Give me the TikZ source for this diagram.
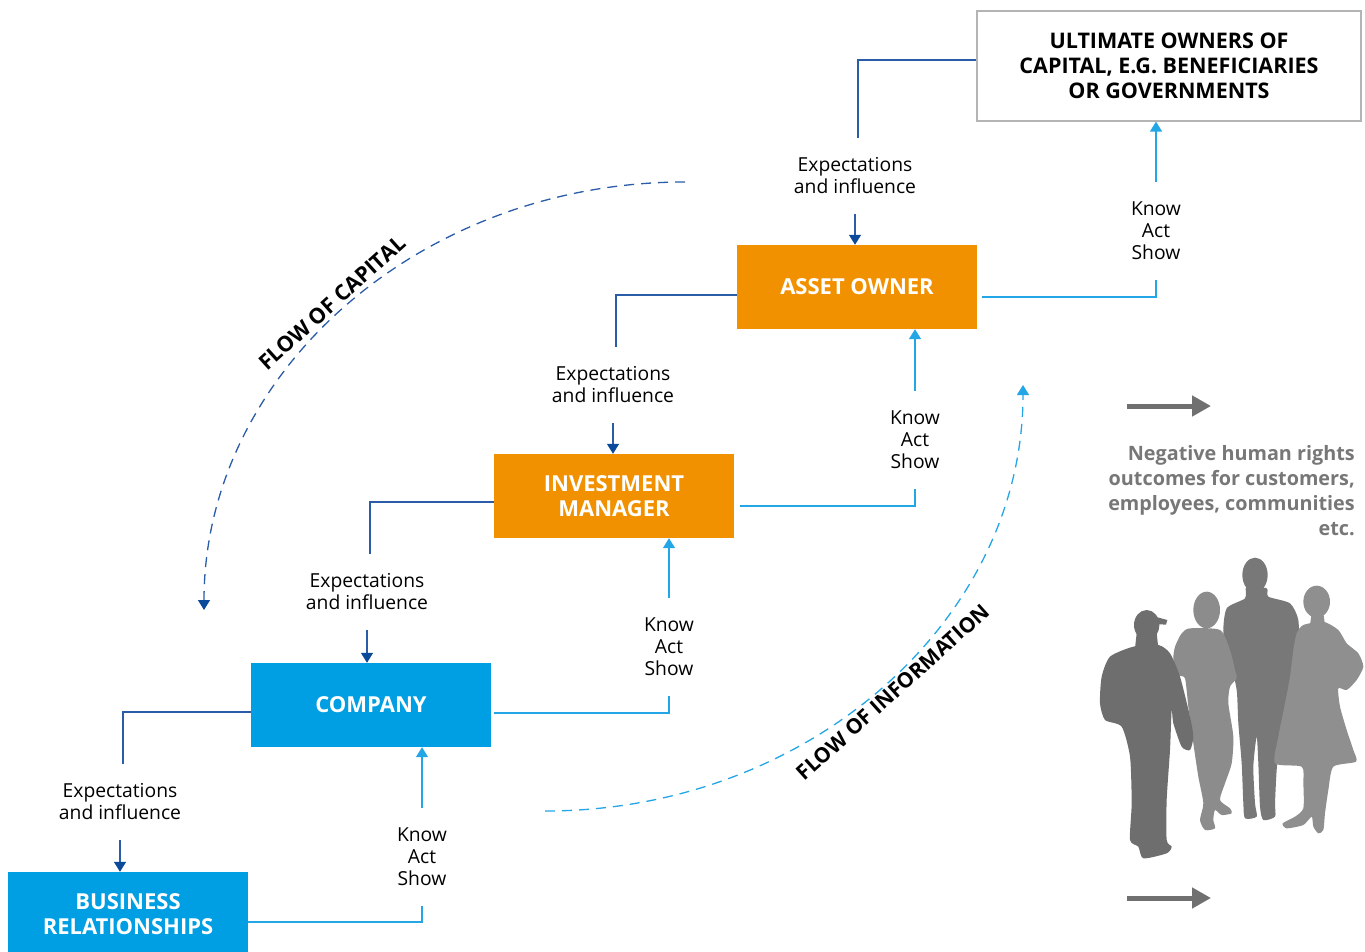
\documentclass[tikz,border=0pt]{standalone}
\usepackage{fontspec}
\setmainfont{Open Sans}
\usetikzlibrary{arrows.meta,positioning}
\definecolor{aoorange}{HTML}{F29100}
\definecolor{coblue}{HTML}{009FE3}
\definecolor{expblue}{HTML}{2A5CA8}
\definecolor{tipblue}{HTML}{0B4A9A}
\definecolor{kasblue}{HTML}{22A6E6}
\definecolor{txtgray}{HTML}{777777}
\definecolor{arrgray}{HTML}{707070}
\definecolor{boxgray}{HTML}{B4B4B4}

\begin{document}
\begin{tikzpicture}[x=1pt,y=-1pt,
    stage/.style={fill=#1, text=white, minimum width=240pt, minimum height=84pt, inner sep=0pt, align=center, font=\fontsize{22}{25}\selectfont\bfseries},
    lbl/.style={align=center, inner xsep=0pt, inner ysep=20pt, font=\fontsize{19.3}{22}\selectfont},
    expline/.style={draw=expblue, line width=1.4pt},
    kasline/.style={draw=kasblue, line width=1.4pt},
    exparrow/.style={expline, -{Triangle[length=10pt,width=12pt,color=tipblue]}},
    kasarrow/.style={kasline, -{Triangle[length=10pt,width=12pt]}},
    flowtext/.style={rotate=42, font=\fontsize{21.5}{24}\selectfont\bfseries},
    grayarrow/.style={draw=arrgray, line width=5pt, -{Triangle[length=19pt,width=20pt]}}]
    \useasboundingbox (0,0) rectangle (1365,952);

    \node[draw=boxgray, line width=1.2pt, minimum width=384pt, minimum height=110pt, align=center, font=\fontsize{21.5}{25}\selectfont\bfseries] (ult) at (1169,66) {ULTIMATE OWNERS OF\\CAPITAL, E.G. BENEFICIARIES\\OR GOVERNMENTS};
    \node[stage=aoorange] (ao) at (857,287) {ASSET OWNER};
    \node[stage=aoorange] (im) at (614,496) {INVESTMENT\\MANAGER};
    \node[stage=coblue] (co) at (371,705) {COMPANY};
    \node[stage=coblue] (br) at (128,914) {BUSINESS\\RELATIONSHIPS};

    \node[lbl] (ea1) at (855,176) {Expectations\\and influence};
    \node[lbl] (ea2) at (613,385) {Expectations\\and influence};
    \node[lbl] (ea3) at (367,592) {Expectations\\and influence};
    \node[lbl] (ea4) at (120,802) {Expectations\\and influence};
    \node[lbl] (ks1) at (1156,231) {Know\\Act\\Show};
    \node[lbl] (ks2) at (915,440) {Know\\Act\\Show};
    \node[lbl] (ks3) at (669,647) {Know\\Act\\Show};
    \node[lbl] (ks4) at (422,857) {Know\\Act\\Show};

    % expectations going down
    \draw[expline] ([yshift=6pt]ult.west) -| ([xshift=3pt]ea1.north);
    \draw[exparrow] (ea1.south) -- (ea1.south |- ao.north);
    \draw[expline] ([yshift=-8pt]ao.west) -| ([xshift=3pt]ea2.north);
    \draw[exparrow] (ea2.south) -- (ea2.south |- im.north);
    \draw[expline] ([yshift=-6pt]im.west) -| ([xshift=3pt]ea3.north);
    \draw[exparrow] (ea3.south) -- (ea3.south |- co.north);
    \draw[expline] ([yshift=-7pt]co.west) -| ([xshift=3pt]ea4.north);
    \draw[exparrow] (ea4.south) -- (ea4.south |- br.north);

    % know, act, show going up
    \draw[kasline] ([xshift=5pt,yshift=-10pt]ao.east) -| (ks1.south);
    \draw[kasarrow] (ks1.north) -- (ks1.north |- ult.south);
    \draw[kasline] ([xshift=6pt,yshift=-10pt]im.east) -| (ks2.south);
    \draw[kasarrow] (ks2.north) -- (ks2.north |- ao.south);
    \draw[kasline] ([xshift=3pt,yshift=-8pt]co.east) -| (ks3.south);
    \draw[kasarrow] (ks3.north) -- (ks3.north |- im.south);
    \draw[kasline] ([yshift=-8pt]br.east) -| (ks4.south);
    \draw[kasarrow] (ks4.north) -- (ks4.north |- co.south);

    \coordinate (capS) at (685,182);
    \coordinate (capE) at (204,610);
    \draw[draw=expblue, line width=1.3pt, dash pattern=on 10pt off 7pt, -{Triangle[length=10pt,width=12pt,color=tipblue]}] (capS) .. controls (419,182) and (204,374) .. (capE);
    \node[flowtext] (fcap) at (332,303) {FLOW OF CAPITAL};

    \coordinate (infS) at (545,811);
    \coordinate (infE) at (1023,385);
    \draw[draw=kasblue, line width=1.3pt, dash pattern=on 10pt off 7pt, -{Triangle[length=10pt,width=12pt]}] (infS) .. controls (809,811) and (1023,620) .. (infE);
    \node[flowtext, font=\fontsize{21}{24}\selectfont\bfseries] (finf) at (893,692) {FLOW OF INFORMATION};

    \coordinate (g1s) at (1127,406);
    \coordinate (g1e) at (1211,406);
    \draw[grayarrow] (g1s) -- (g1e);
    \node[anchor=north east, inner sep=0pt, align=right, text=txtgray, font=\fontsize{19.8}{25}\selectfont\bfseries] (neg) at (1355,445) {Negative human rights\\outcomes for customers,\\employees, communities\\etc.};
    \coordinate (g2s) at (1127,898);
    \coordinate (g2e) at (1211,898);
    \draw[grayarrow] (g2s) -- (g2e);

    % people
    \begin{scope}[shift={(1090,550)}, scale=1/3]
        \fill[black!53] (495,75) ellipse (38 and 52);
        \fill[black!53] plot[smooth cycle, tension=0.4] coordinates {(470,110) (530,115) (535,140) (600,160) (625,210) (625,300) (610,400) (590,480) (570,560) (560,660) (555,760) (555,800) (520,810) (510,770) (505,640) (500,560) (490,650) (495,760) (500,800) (465,805) (460,760) (455,640) (445,520) (440,420) (420,330) (400,250) (410,175) (465,145)};
        \fill[black!45] (350,180) ellipse (40 and 55);
        \fill[black!45] plot[smooth cycle, tension=0.4] coordinates {(300,235) (390,240) (420,300) (435,360) (440,385) (420,410) (415,460) (430,560) (425,640) (405,700) (390,750) (420,775) (425,790) (395,795) (375,780) (370,810) (375,835) (345,840) (330,810) (340,760) (325,680) (310,580) (295,470) (285,385) (265,375) (250,330) (255,290) (275,250)};
        \fill[black!44] (680,155) ellipse (40 and 48);
        \fill[black!44] (665,190) -- (700,190) -- (705,225) -- (660,225) -- cycle;
        \fill[black!44] plot[smooth cycle, tension=0.4] coordinates {(640,225) (700,215) (745,240) (770,280) (805,310) (820,350) (800,390) (770,420) (745,415) (750,470) (770,540) (790,600) (798,635) (730,650) (715,720) (705,790) (700,840) (685,850) (670,830) (665,800) (640,825) (590,835) (578,820) (615,800) (640,775) (640,700) (635,650) (555,640) (565,560) (585,460) (600,380) (610,300) (620,250)};
        \fill[black!57] (170,225) ellipse (38 and 45);
        \fill[black!57] (195,200) -- (232,210) -- (228,224) -- (195,222) -- cycle;
        \fill[black!57] (140,250) -- (200,250) -- (205,295) -- (135,295) -- cycle;
        \fill[black!57] plot[smooth cycle, tension=0.4] coordinates {(60,320) (130,290) (205,285) (240,310) (270,380) (300,500) (310,560) (300,600) (275,590) (250,520) (245,480) (240,600) (230,750) (230,870) (245,890) (230,910) (160,925) (145,890) (120,870) (125,760) (120,620) (95,530) (45,510) (30,460) (35,380)};
    \end{scope}
\end{tikzpicture}
\end{document}
